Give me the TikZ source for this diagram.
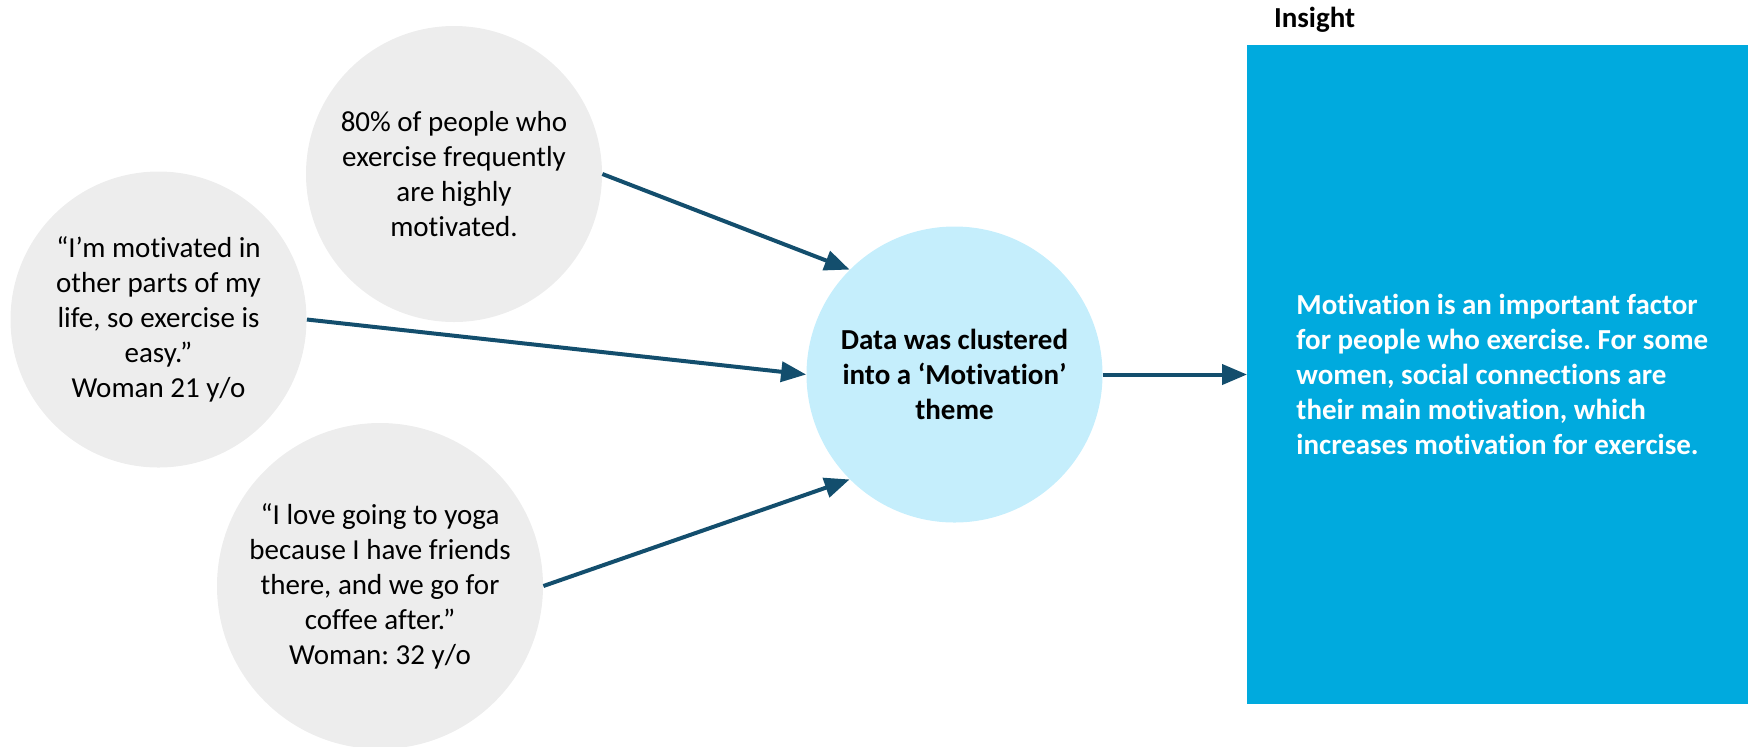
\documentclass[tikz,border=0pt]{standalone}
\usepackage{fontspec}
\setmainfont{Carlito}[Ligatures=NoCommon]
\usetikzlibrary{arrows.meta,positioning}
\frenchspacing

\definecolor{bubblegray}{HTML}{EDEDED}
\definecolor{themeblue}{HTML}{C5EEFC}
\definecolor{insightblue}{HTML}{00AADE}
\definecolor{linkteal}{HTML}{134E6D}

\tikzset{
  bubble/.style={circle, fill=bubblegray, minimum size=148pt, inner sep=0pt, align=center,
    font=\fontsize{14.5}{17.5}\selectfont},
  themebubble/.style={bubble, fill=themeblue, font=\fontsize{14.5}{17.5}\selectfont\bfseries},
  insightbox/.style={rectangle, fill=insightblue, minimum width=255pt, minimum height=329.5pt,
    inner sep=0pt, align=left, text=white, font=\fontsize{14.5}{17.5}\selectfont\bfseries},
  link/.style={draw=linkteal, line width=2pt}
}

\begin{document}
\begin{tikzpicture}[x=0.5pt, y=-0.5pt, >={Triangle[length=12.5pt,width=10pt]}]
\useasboundingbox (0,0) rectangle (1748,746);

\node [bubble] (stat) at (454,174) {80\% of people who\\exercise frequently\\are highly\\motivated.};
\node [bubble] (quoteA) at (158.5,319.5) {“I’m motivated in\\other parts of my\\life, so exercise is\\easy.”\\Woman 21 y/o};
\node [bubble, minimum size=163pt] (quoteB) at (380,586) {“I love going to yoga\\because I have friends\\there, and we go for\\coffee after.”\\Woman: 32 y/o};
\node [themebubble] (theme) at (954.5,374.5) {Data was clustered\\into a ‘Motivation’\\theme};

\node [insightbox, anchor=north west] (insight) at (1247,45) {Motivation is an important factor\\for people who exercise. For some\\women, social connections are\\their main motivation, which\\increases motivation for exercise.};
\node [anchor=base west, font=\fontsize{14.5}{17.5}\selectfont\bfseries] (insighttitle) at (1267,27) {Insight};

\draw [->, link] (stat.east) -- (theme.north west);
\draw [->, link] (quoteA.east) -- (theme.west);
\draw [->, link] (quoteB.east) -- (theme.south west);
\draw [->, link] (theme.east) -- (insight.west |- theme.east);
\end{tikzpicture}
\end{document}
